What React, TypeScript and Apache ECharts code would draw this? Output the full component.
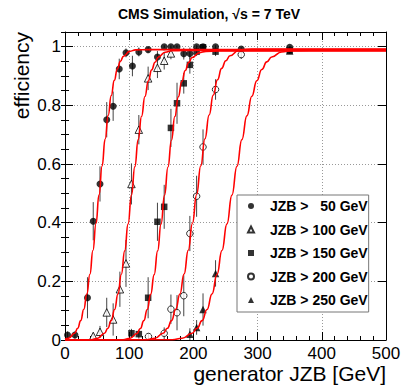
import React, { useEffect, useRef } from 'react';
import * as echarts from 'echarts';

const FONT = "'Liberation Sans', Arial, Helvetica, sans-serif";

const titleText = 'CMS Simulation, \u221As = 7 TeV';
const xTitle = 'generator JZB [GeV]';
const yTitle = 'efficiency';
const seriesNames = ['JZB > \u200750 GeV', 'JZB > 100 GeV', 'JZB > 150 GeV', 'JZB > 200 GeV', 'JZB > 250 GeV'];

// [generator JZB (GeV), efficiency, error]
const eff50: number[][] = [
  [4, 0.017, 0.012], [15.5, 0.017, 0.012], [35, 0.144, 0.07], [44, 0.405, 0.065], [54.5, 0.532, 0.06],
  [65, 0.751, 0.06], [75, 0.797, 0.05], [84.5, 0.924, 0.035], [95, 0.979, 0.015], [105, 0.934, 0.035],
  [115, 0.982, 0.015], [129.5, 0.99, 0.01], [144, 0.965, 0.02], [154.5, 1.0, 0.005], [165, 1.0, 0.005],
  [174.5, 1.0, 0.005], [185, 0.976, 0.02], [194.5, 0.977, 0.02], [205, 1.0, 0.005], [215, 1.0, 0.005],
  [234.5, 1.0, 0.005], [274.5, 0.992, 0.006], [350, 0.998, 0.004],
];
const eff100: number[][] = [
  [44, 0.014, 0.01], [54.5, 0.028, 0.02], [65, 0.094, 0.05], [75, 0.07, 0.055], [85.5, 0.173, 0.06],
  [95, 0.261, 0.08], [103.5, 0.532, 0.07], [115, 0.717, 0.05], [129.5, 0.892, 0.04], [144, 0.928, 0.035],
  [154.5, 0.952, 0.03], [165, 0.977, 0.02],
];
const eff150: number[][] = [
  [103.5, 0.023, 0.015], [115, 0.02, 0.015], [129.5, 0.144, 0.07], [144, 0.403, 0.065], [154.5, 0.454, 0.075],
  [165, 0.723, 0.065], [174.5, 0.807, 0.07], [185, 0.875, 0.035], [194.5, 0.938, 0.03], [205, 0.983, 0.015],
  [215, 0.998, 0.005], [234.5, 0.983, 0.015], [350, 0.987, 0.008],
];
const eff200: number[][] = [
  [130, 0.012, 0.01], [154.5, 0.023, 0.02], [165, 0.105, 0.05], [174.5, 0.093, 0.06], [185, 0.151, 0.07],
  [194.5, 0.363, 0.06], [205, 0.49, 0.07], [215, 0.658, 0.06], [234.5, 0.854, 0.035], [274.5, 0.973, 0.015],
];
const eff250: number[][] = [
  [194.5, 0.02, 0.02], [205, 0.043, 0.025], [215, 0.104, 0.055], [234.5, 0.227, 0.045], [350, 0.985, 0.01],
];

// fitted turn-on curves: [x, efficiency]
const fit50: number[][] = [
  [0, 0.003], [5.5, 0.006], [15, 0.023], [19.8, 0.04], [24.5, 0.066], [29.3, 0.105], [34, 0.157], [38.8, 0.224],
  [43.5, 0.305], [48.3, 0.397], [53, 0.495], [57.8, 0.593], [62.5, 0.685], [67.3, 0.766], [72, 0.833], [76.8, 0.885],
  [81.5, 0.924], [86.3, 0.95], [91, 0.967], [100.5, 0.984], [110, 0.989], [130, 0.99], [500, 0.99],
];
const fit100: number[][] = [
  [0, 0], [40.5, 0.001], [51, 0.006], [61.5, 0.023], [66.8, 0.04], [72, 0.066], [77.3, 0.104], [82.5, 0.157],
  [87.8, 0.224], [93, 0.304], [98.3, 0.396], [103.5, 0.494], [108.8, 0.591], [114, 0.683], [119.3, 0.763],
  [124.5, 0.83], [129.8, 0.883], [135, 0.921], [140.3, 0.947], [145.5, 0.965], [156, 0.981], [166.5, 0.986],
  [185, 0.987], [500, 0.987],
];
const fit150: number[][] = [
  [0, 0], [90.5, 0.001], [101.3, 0.006], [112, 0.022], [117.4, 0.039], [122.8, 0.066], [128.1, 0.104], [133.5, 0.156],
  [138.9, 0.223], [144.3, 0.304], [149.6, 0.395], [155, 0.493], [160.4, 0.59], [165.8, 0.681], [171.1, 0.762],
  [176.5, 0.829], [181.9, 0.881], [187.3, 0.919], [192.6, 0.946], [198, 0.963], [208.8, 0.979], [219.5, 0.984],
  [240, 0.985], [500, 0.985],
];
const fit200: number[][] = [
  [0, 0], [127, 0.001], [140, 0.006], [153, 0.023], [159.5, 0.04], [166, 0.066], [172.5, 0.105], [179, 0.157],
  [185.5, 0.225], [192, 0.306], [198.5, 0.398], [205, 0.496], [211.5, 0.594], [218, 0.686], [224.5, 0.767],
  [231, 0.835], [237.5, 0.887], [244, 0.926], [250.5, 0.952], [257, 0.969], [270, 0.986], [283, 0.991],
  [300, 0.992], [500, 0.992],
];
const fit250: number[][] = [
  [0, 0], [167, 0.001], [182.5, 0.006], [198, 0.023], [205.8, 0.04], [213.5, 0.066], [221.3, 0.104], [229, 0.157],
  [236.8, 0.224], [244.5, 0.305], [252.3, 0.396], [260, 0.494], [267.8, 0.592], [275.5, 0.683], [283.3, 0.764],
  [291, 0.831], [298.8, 0.884], [306.5, 0.922], [314.3, 0.948], [322, 0.965], [337.5, 0.982], [353, 0.987],
  [380, 0.988], [500, 0.988],
];

const X_MIN = 0, X_MAX = 500, X_STEP = 100;
const Y_MIN = 0, Y_MAX = 1.05, Y_STEP = 0.2, Y_MINOR = 0.05;

const ICON_CIRCLE = 'path://M0,5A5,5,0,1,1,10,5A5,5,0,1,1,0,5Z';
const ICON_TRIANGLE = 'path://M5,0L10,10L0,10Z';
const ICON_SQUARE = 'path://M0,0L10,0L10,10L0,10Z';

const markers = [
  { data: eff50, symbol: 'circle', icon: ICON_CIRCLE, size: 7, style: { color: '#000' } },
  { data: eff100, symbol: 'triangle', icon: ICON_TRIANGLE, size: 7.5, style: { color: '#fff', borderColor: '#000', borderWidth: 1 } },
  { data: eff150, symbol: 'rect', icon: ICON_SQUARE, size: 6.5, style: { color: '#000' } },
  { data: eff200, symbol: 'circle', icon: ICON_CIRCLE, size: 6.5, style: { color: '#fff', borderColor: '#000', borderWidth: 1 } },
  { data: eff250, symbol: 'triangle', icon: ICON_TRIANGLE, size: 7.5, style: { color: '#000' } },
];
const fits = [fit50, fit100, fit150, fit200, fit250];

function errorBars(data: number[][]) {
  return {
    type: 'custom',
    silent: true,
    z: 2,
    data: data.map((d) => [d[0], d[1], d[2]]),
    encode: { x: 0, y: 1 },
    renderItem: (_p: any, api: any) => {
      const x = api.value(0);
      const y = api.value(1);
      const e = api.value(2);
      const a = api.coord([x, Math.max(Y_MIN, y - e)]);
      const b = api.coord([x, Math.min(Y_MAX, y + e)]);
      return {
        type: 'line',
        shape: { x1: a[0], y1: a[1], x2: b[0], y2: b[1] },
        style: { stroke: '#444', lineWidth: 1 },
      };
    },
  };
}

const frameLine = { show: true, onZero: false, lineStyle: { color: '#000', width: 1 } };

export default function App() {
  const ref = useRef<HTMLDivElement>(null);
  useEffect(() => {
    if (!ref.current) return;
    const chart = echarts.init(ref.current, null, { renderer: 'svg' });
    const series: any[] = [];
    markers.forEach((m) => series.push(errorBars(m.data)));
    markers.forEach((m, i) =>
      series.push({
        type: 'scatter',
        name: seriesNames[i],
        data: m.data.map((d) => [d[0], d[1]]),
        symbol: m.symbol,
        symbolSize: m.size,
        itemStyle: m.style,
        z: 3,
        silent: true,
      })
    );
    fits.forEach((f) =>
      series.push({
        type: 'line',
        data: f,
        smooth: true,
        smoothMonotone: 'x',
        showSymbol: false,
        symbol: 'none',
        lineStyle: { color: '#ff0000', width: 1.6 },
        z: 4,
        silent: true,
      })
    );
    const xCommon = { type: 'value', min: X_MIN, max: X_MAX, interval: X_STEP };
    const yCommon = { type: 'value', min: Y_MIN, max: Y_MAX };
    chart.setOption({
      animation: false,
      backgroundColor: '#fff',
      textStyle: { fontFamily: FONT },
      grid: { left: 65, right: 21, top: 32, bottom: 51, containLabel: false },
      xAxis: [
        {
          ...xCommon,
          position: 'bottom',
          axisLine: frameLine,
          axisTick: { show: true, inside: true, length: 8, lineStyle: { color: '#000' } },
          minorTick: { show: true, splitNumber: 5, length: 4, lineStyle: { color: '#000' } },
          axisLabel: { fontSize: 17, color: '#000', margin: 5, fontFamily: FONT },
          splitLine: { show: true, lineStyle: { color: '#999', type: [1, 2], width: 1 } },
        },
        {
          ...xCommon,
          position: 'top',
          axisLine: frameLine,
          axisTick: { show: true, inside: true, length: 8, lineStyle: { color: '#000' } },
          minorTick: { show: true, splitNumber: 5, length: 4, lineStyle: { color: '#000' } },
          axisLabel: { show: false },
          splitLine: { show: false },
        },
      ],
      yAxis: [
        {
          ...yCommon,
          interval: Y_STEP,
          position: 'left',
          axisLine: frameLine,
          axisTick: { show: true, inside: true, length: 8, lineStyle: { color: '#000' } },
          axisLabel: { fontSize: 17, color: '#000', margin: 4, fontFamily: FONT, showMaxLabel: false },
          splitLine: { show: true, lineStyle: { color: '#999', type: [1, 2], width: 1 } },
        },
        {
          ...yCommon,
          interval: Y_MINOR,
          position: 'left',
          axisLine: { show: false },
          axisTick: { show: true, inside: true, length: 4, lineStyle: { color: '#000' } },
          axisLabel: { show: false },
          splitLine: { show: false },
        },
        {
          ...yCommon,
          interval: Y_STEP,
          position: 'right',
          axisLine: frameLine,
          axisTick: { show: true, inside: true, length: 8, lineStyle: { color: '#000' } },
          axisLabel: { show: false },
          splitLine: { show: false },
        },
        {
          ...yCommon,
          interval: Y_MINOR,
          position: 'right',
          axisLine: { show: false },
          axisTick: { show: true, inside: true, length: 4, lineStyle: { color: '#000' } },
          axisLabel: { show: false },
          splitLine: { show: false },
        },
      ],
      legend: {
        data: markers.map((m, i) => ({ name: seriesNames[i], icon: m.icon })),
        orient: 'vertical',
        left: 237,
        top: 195,
        itemWidth: 28,
        itemHeight: 6,
        symbolKeepAspect: true,
        itemGap: 7.5,
        padding: [3, 1, 4, 10],
        borderColor: '#777',
        borderWidth: 1,
        backgroundColor: '#fff',
        selectedMode: false,
        textStyle: { fontSize: 14, fontWeight: 'bold', color: '#000', fontFamily: FONT, lineHeight: 16 },
      },
      graphic: [
        {
          type: 'text',
          x: 209,
          y: 14,
          style: { text: titleText, font: `bold 14px ${FONT}`, fill: '#000', align: 'center', verticalAlign: 'middle' },
        },
        {
          type: 'text',
          x: 386,
          y: 373,
          style: { text: xTitle, font: `21px ${FONT}`, fill: '#000', align: 'right', verticalAlign: 'middle' },
        },
        {
          type: 'text',
          x: 21,
          y: 32,
          rotation: Math.PI / 2,
          style: { text: yTitle, font: `21px ${FONT}`, fill: '#000', align: 'right', verticalAlign: 'middle' },
        },
      ],
      series,
    });
    return () => chart.dispose();
  }, []);
  return <div ref={ref} style={{ position: 'absolute', left: 0, top: 0, width: 407, height: 391 }} />;
}
